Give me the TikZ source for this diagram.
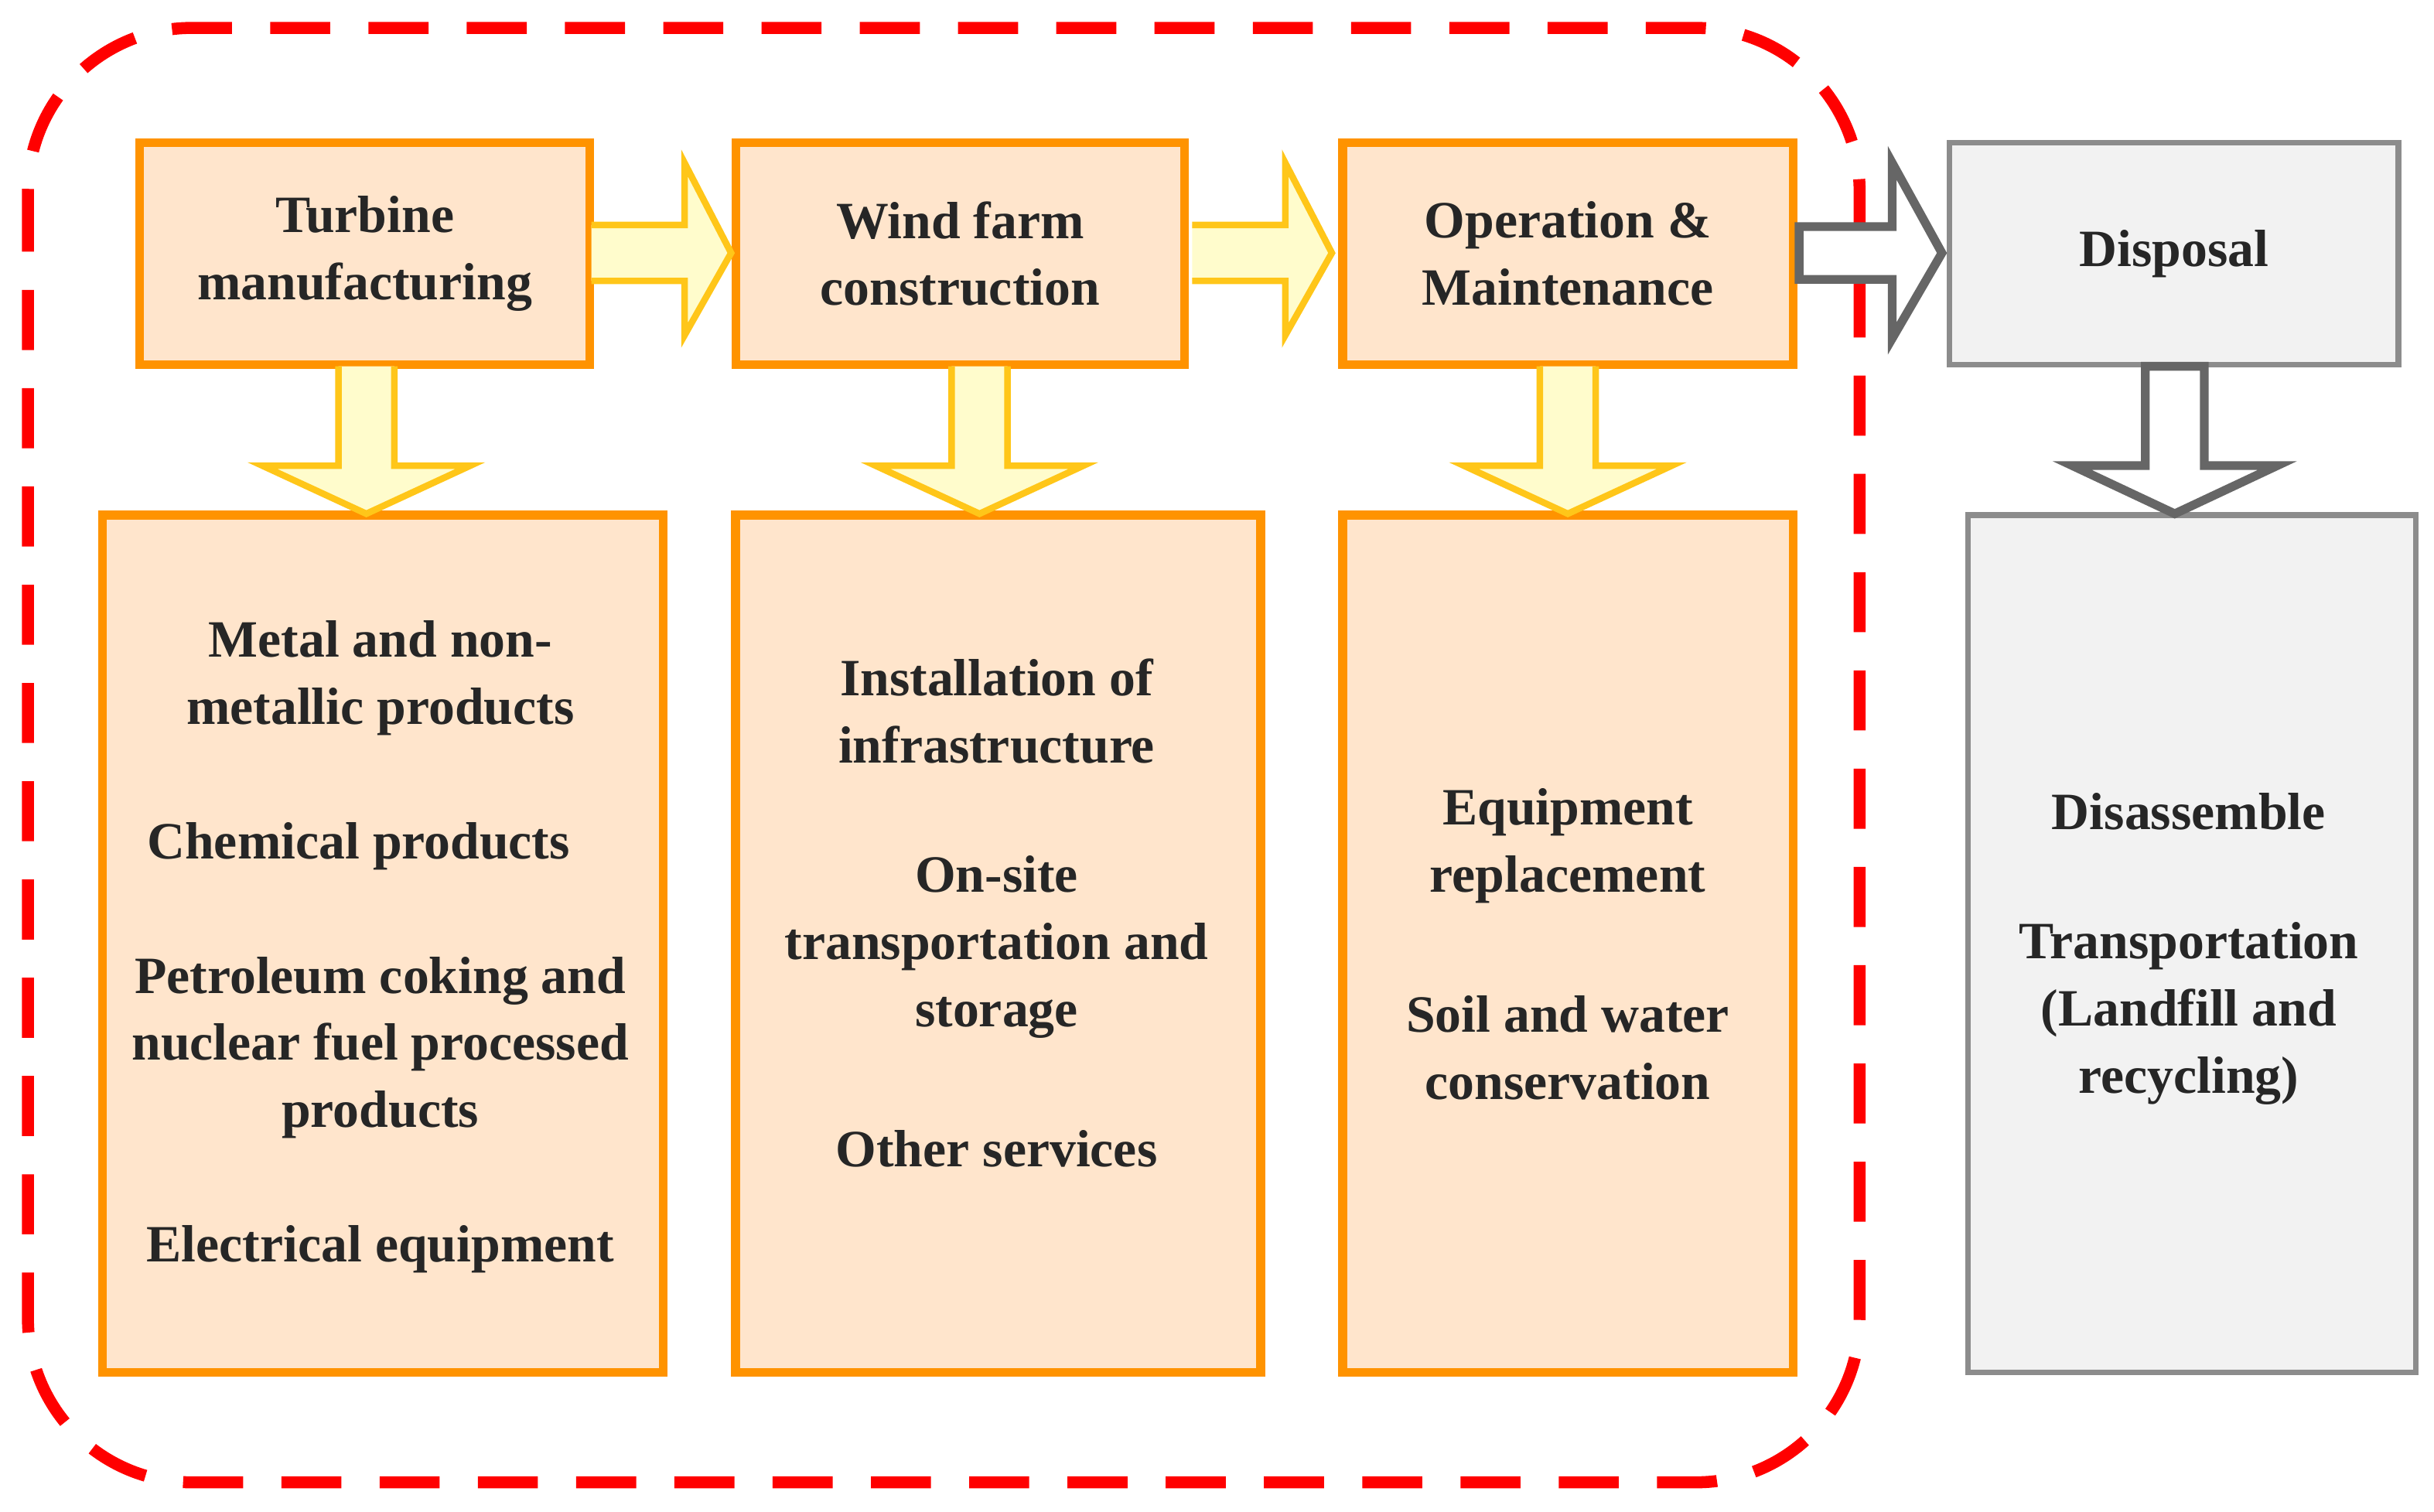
\documentclass[tikz,border=0pt]{standalone}
\usepackage{fontspec}
\setmainfont{Liberation Serif}
\begin{document}
\begin{tikzpicture}[x=0.01cm,y=-0.01cm,
 box/.style={draw=orange!85!yellow,fill=orange!20!white,line width=1.6pt},
 gbox/.style={draw=black!45,fill=black!5,line width=1pt},
 arr/.style={draw=orange!50!yellow!90!white,fill=yellow!20!white,line width=1.2pt,line join=miter},
 garr/.style={draw=black!60,fill=white,line width=1.6pt},
 txt/.style={font=\fontsize{9.6}{12.3}\selectfont\bfseries,align=center,text=black!85}]
\useasboundingbox (0,0) rectangle (1568,974);
% dashed boundary
\draw[red,line width=2.2pt,dash pattern=on 11pt off 7pt,rounded corners=30pt] (18,18) rectangle (1198,955);
% top boxes
\node[box,minimum width=2.9cm,minimum height=1.43cm,txt] (tm) at (235,163.5) {Turbine\\manufacturing};
\node[box,minimum width=2.89cm,minimum height=1.43cm,txt] (wf) at (618.5,163.5) {Wind farm\\construction};
\node[box,minimum width=2.9cm,minimum height=1.43cm,txt] (om) at (1010,163.5) {Operation \&\\Maintenance};
\node[gbox,minimum width=2.89cm,minimum height=1.43cm,txt] (dp) at (1400.5,163.5) {Disposal};
% bottom boxes
\node[box,minimum width=3.61cm,minimum height=5.52cm] (b1) at (246.5,608) {};
\node[box,minimum width=3.38cm,minimum height=5.52cm] (b2) at (643,608) {};
\node[box,minimum width=2.9cm,minimum height=5.52cm] (b3) at (1010,608) {};
\node[gbox,minimum width=2.88cm,minimum height=5.52cm] (b4) at (1412,608) {};
% texts
\node[txt] (t11) at (245,437) {Metal and non-\\metallic products};
\node[txt] (t12) at (231,545) {Chemical products};
\node[txt] (t13) at (245,675) {Petroleum coking and\\nuclear fuel processed\\products};
\node[txt] (t14) at (245,805) {Electrical equipment};
\node[txt] (t21) at (642,458) {Installation of\\infrastructure};
\node[txt] (t22) at (642,610) {On-site\\transportation and\\storage};
\node[txt] (t23) at (642,740) {Other services};
\node[txt] (t31) at (1010,545) {Equipment\\replacement};
\node[txt] (t32) at (1010,675) {Soil and water\\conservation};
\node[txt] (t41) at (1410,523) {Disassemble};
\node[txt] (t42) at (1410,653) {Transportation\\(Landfill and\\recycling)};
% right arrows
\foreach \s in {381,768}{
 \draw[arr] (\s,145) -- (\s+60,145) -- (\s+60,105) -- (\s+90,163) -- (\s+60,216) -- (\s+60,181) -- (\s,181);
}
\draw[garr] (1159,146) -- (1219,146) -- (1219,105) -- (1251,163) -- (1219,218) -- (1219,180) -- (1159,180) -- cycle;
% down arrows
\foreach \c in {236,631,1010}{
 \draw[arr] (\c-18,236) -- (\c-18,300) -- (\c-67,300) -- (\c,331) -- (\c+67,300) -- (\c+18,300) -- (\c+18,236);
}
\draw[garr] (1382,236) -- (1382,300) -- (1335,300) -- (1401,331) -- (1467,300) -- (1420,300) -- (1420,236) -- cycle;
\end{tikzpicture}
\end{document}
